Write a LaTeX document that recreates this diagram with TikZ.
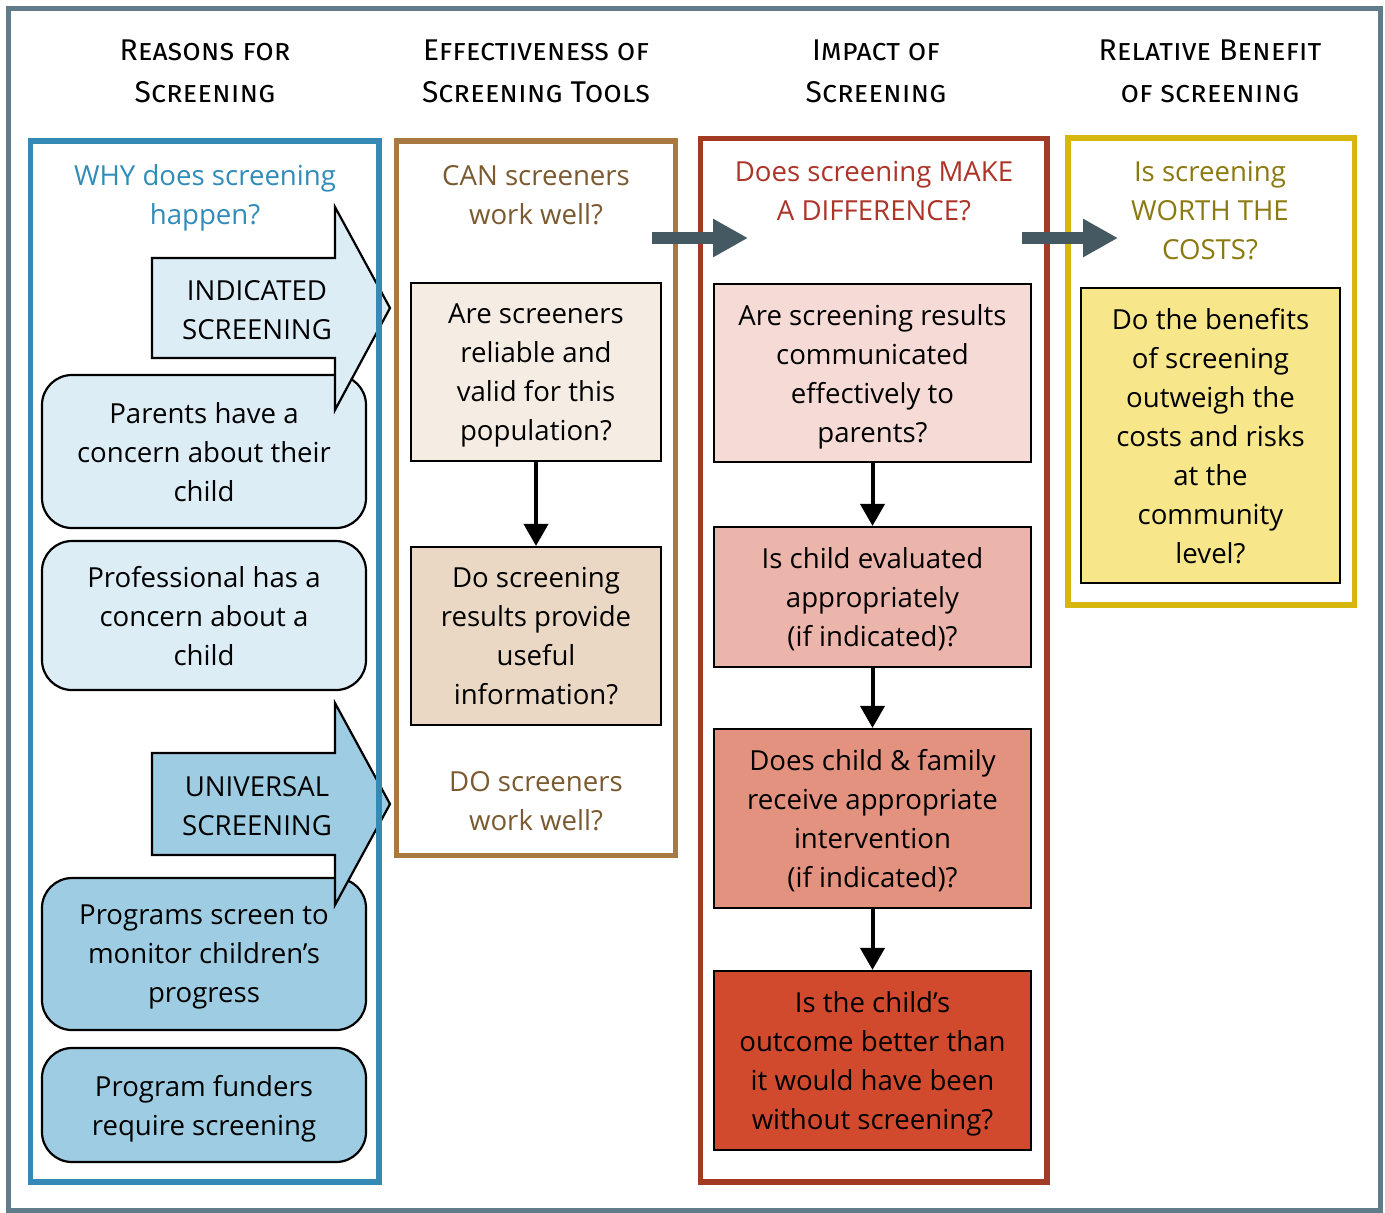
\documentclass[tikz,border=0pt]{standalone}
\usepackage{fontspec}
\setmainfont{Open Sans}
\newfontfamily\headfont{Fira Sans}
\usetikzlibrary{arrows.meta, positioning}
\definecolor{framegray}{RGB}{96,123,137}
\definecolor{slatecolor}{RGB}{69,89,99}
\definecolor{whyblue}{RGB}{52,137,181}
\definecolor{whytext}{RGB}{50,140,185}
\definecolor{indfill}{RGB}{221,237,246}
\definecolor{unifill}{RGB}{158,204,226}
\definecolor{canbrown}{RGB}{168,122,66}
\definecolor{cantext}{RGB}{122,90,48}
\definecolor{canfillA}{RGB}{245,236,227}
\definecolor{canfillB}{RGB}{234,216,197}
\definecolor{diffred}{RGB}{163,58,38}
\definecolor{difftext}{RGB}{172,52,40}
\definecolor{diffA}{RGB}{245,218,214}
\definecolor{diffB}{RGB}{236,181,172}
\definecolor{diffC}{RGB}{226,146,127}
\definecolor{diffD}{RGB}{209,74,46}
\definecolor{costyellow}{RGB}{213,183,14}
\definecolor{costtext}{RGB}{140,122,16}
\definecolor{costfill}{RGB}{247,230,138}

\begin{document}
\begin{tikzpicture}[x=0.5pt, y=-0.5pt,
  every node/.style={font=\fontsize{13.8}{19.5}\selectfont, align=center, inner sep=0pt, text depth=0pt},
  head/.style={font=\headfont\scshape\fontsize{15}{21}\selectfont, text depth=},
  colframe/.style={draw=#1, line width=2.75pt},
  reasonbox/.style={draw, line width=1.1pt, rounded corners=15pt, fill=#1, minimum width=162pt},
  qbox/.style={draw, line width=1.1pt, fill=#1},
  bigarrow/.style={draw, line width=1.1pt, fill=#1},
  downarr/.style={line width=2pt, -{Triangle[length=11pt, width=12pt]}},
  flowarr/.style={slatecolor, line width=6pt, -{Triangle[length=17.5pt, width=18pt]}}]
  \useasboundingbox (0,0) rectangle (1385,1212);
  \fill[white] (0,0) rectangle (1385,1212);
  \draw[framegray, line width=2.5pt] (8.5,8) rectangle (1380.5,1210);

  % Headings
  \node[head] (H1) at (205,71) {Reasons for\\Screening};
  \node[head] (H2) at (536,71) {Effectiveness of\\Screening Tools};
  \node[head] (H3) at (876,71) {Impact of\\Screening};
  \node[head] (H4) at (1210,71) {Relative Benefit\\of screening};

  % Reasons column
  \node[whytext] (WHY) at (205,195) {WHY does screening\\happen?};
  \node[reasonbox=indfill, minimum height=76.5pt] (PAR) at (204,451.5) {Parents have a\\concern about their\\child};
  \node[reasonbox=indfill, minimum height=74.5pt] (PRO) at (204,615.5) {Professional has a\\concern about a\\child};
  \node[reasonbox=unifill, minimum height=76pt] (MON) at (204,954) {Programs screen to\\monitor children’s\\progress};
  \node[reasonbox=unifill, minimum height=57pt] (FUN) at (204,1105) {Program funders\\require screening};
  \draw[bigarrow=indfill] (152,258) -- (335,258) -- (335,207) -- (390,308) -- (335,410) -- (335,358) -- (152,358) -- cycle;
  \node (IND) at (257,309.5) {INDICATED\\SCREENING};
  \draw[bigarrow=unifill] (152,753) -- (335,753) -- (335,703) -- (390,804) -- (335,905) -- (335,855) -- (152,855) -- cycle;
  \node (UNI) at (257,806) {UNIVERSAL\\SCREENING};
  \draw[colframe=whyblue] (30.5,141) rectangle (379,1182);

  % Screening tools column
  \draw[colframe=canbrown] (396.5,141) rectangle (675.5,855.5);
  \node[cantext] (CAN) at (536,195) {CAN screeners\\work well?};
  \node[qbox=canfillA, minimum width=125pt, minimum height=89pt] (REL) at (536,372) {Are screeners\\reliable and\\valid for this\\population?};
  \node[qbox=canfillB, minimum width=125pt, minimum height=89pt] (USE) at (536,636) {Do screening\\results provide\\useful\\information?};
  \node[cantext] (DO) at (536,801) {DO screeners\\work well?};
  \draw[downarr] (REL) -- (USE);

  % Impact column
  \draw[colframe=diffred] (700.5,138.5) rectangle (1047,1182);
  \node[difftext] (MAKE) at (874,191) {Does screening MAKE\\A DIFFERENCE?};
  \node[qbox=diffA, minimum width=158.5pt, minimum height=89pt] (COM) at (872.5,373) {Are screening results\\communicated\\effectively to\\parents?};
  \node[qbox=diffB, minimum width=158.5pt, minimum height=70pt] (EVA) at (872.5,597) {Is child evaluated\\appropriately\\(if indicated)?};
  \node[qbox=diffC, minimum width=158.5pt, minimum height=89.5pt] (INT) at (872.5,818.5) {Does child \& family\\receive appropriate\\intervention\\(if indicated)?};
  \node[qbox=diffD, minimum width=158.5pt, minimum height=89.5pt] (OUT) at (872.5,1060.5) {Is the child’s\\outcome better than\\it would have been\\without screening?};
  \draw[downarr] (COM) -- (EVA);
  \draw[downarr] (EVA) -- (INT);
  \draw[downarr] (INT) -- (OUT);

  % Relative benefit column
  \draw[colframe=costyellow] (1068,138) rectangle (1354.5,605);
  \node[costtext] (WORTH) at (1210,210) {Is screening\\WORTH THE\\COSTS?};
  \node[qbox=costfill, minimum width=129.5pt, minimum height=147.5pt] (BEN) at (1210.5,435.5) {Do the benefits\\of screening\\outweigh the\\costs and risks\\at the\\community\\level?};

  % Flow between columns
  \coordinate (F1s) at (652,238);
  \coordinate (F1e) at (748,238);
  \coordinate (F2s) at (1022,238);
  \coordinate (F2e) at (1118,238);
  \draw[flowarr] (F1s) -- (F1e);
  \draw[flowarr] (F2s) -- (F2e);
\end{tikzpicture}
\end{document}
